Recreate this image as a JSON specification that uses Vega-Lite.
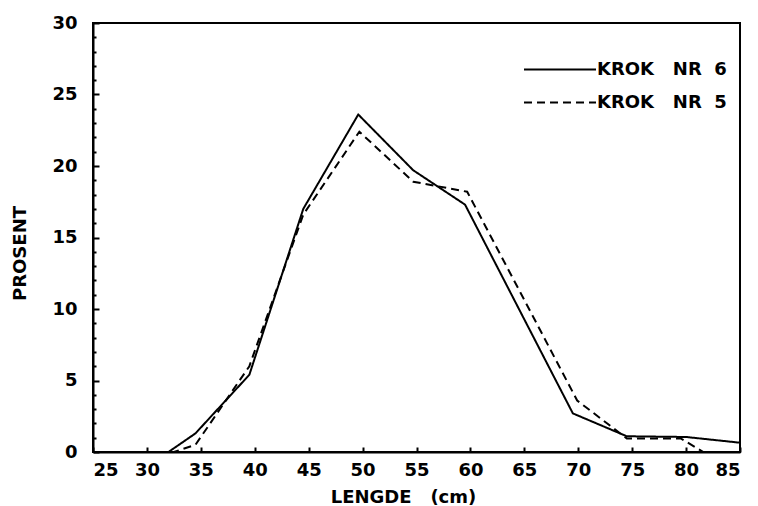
{
  "$schema": "https://vega.github.io/schema/vega-lite/v6.json",
  "width": 647,
  "height": 429,
  "autosize": "none",
  "padding": {"left": 93, "top": 23, "right": 18, "bottom": 54},
  "background": "white",
  "config": {
    "view": {"stroke": "black", "strokeWidth": 2},
    "font": "DejaVu Sans"
  },
  "data": {
    "values": [
      {"serie": "KROK NR 6", "lengde": 25, "prosent": 0},
      {"serie": "KROK NR 6", "lengde": 32, "prosent": 0},
      {"serie": "KROK NR 6", "lengde": 34.5, "prosent": 1.3},
      {"serie": "KROK NR 6", "lengde": 39.5, "prosent": 5.4},
      {"serie": "KROK NR 6", "lengde": 44.5, "prosent": 17.0},
      {"serie": "KROK NR 6", "lengde": 49.6, "prosent": 23.6},
      {"serie": "KROK NR 6", "lengde": 54.7, "prosent": 19.7},
      {"serie": "KROK NR 6", "lengde": 59.5, "prosent": 17.3},
      {"serie": "KROK NR 6", "lengde": 64.5, "prosent": 10.0},
      {"serie": "KROK NR 6", "lengde": 69.5, "prosent": 2.7},
      {"serie": "KROK NR 6", "lengde": 74.5, "prosent": 1.1},
      {"serie": "KROK NR 6", "lengde": 80, "prosent": 1.05},
      {"serie": "KROK NR 6", "lengde": 85, "prosent": 0.65},
      {"serie": "KROK NR 5", "lengde": 25, "prosent": 0},
      {"serie": "KROK NR 5", "lengde": 32.5, "prosent": 0},
      {"serie": "KROK NR 5", "lengde": 34.5, "prosent": 0.5},
      {"serie": "KROK NR 5", "lengde": 39.5, "prosent": 6.0},
      {"serie": "KROK NR 5", "lengde": 44.5, "prosent": 16.6},
      {"serie": "KROK NR 5", "lengde": 49.7, "prosent": 22.4},
      {"serie": "KROK NR 5", "lengde": 54.7, "prosent": 18.9},
      {"serie": "KROK NR 5", "lengde": 59.7, "prosent": 18.2},
      {"serie": "KROK NR 5", "lengde": 64.6, "prosent": 11.2},
      {"serie": "KROK NR 5", "lengde": 69.9, "prosent": 3.6},
      {"serie": "KROK NR 5", "lengde": 74.5, "prosent": 0.95},
      {"serie": "KROK NR 5", "lengde": 79.5, "prosent": 0.95},
      {"serie": "KROK NR 5", "lengde": 81.6, "prosent": 0},
      {"serie": "KROK NR 5", "lengde": 85, "prosent": 0}
    ]
  },
  "mark": {"type": "line", "color": "black", "strokeWidth": 2},
  "encoding": {
    "x": {
      "field": "lengde",
      "type": "quantitative",
      "scale": {"domain": [25, 85], "nice": false, "zero": false},
      "axis": {
        "values": [25, 30, 35, 40, 45, 50, 55, 60, 65, 70, 75, 80, 85],
        "grid": false,
        "domainColor": "black",
        "domainWidth": 2,
        "tickColor": "black",
        "tickWidth": 2,
        "tickSize": -5,
        "labelPadding": 14,
        "labelFontSize": 18,
        "labelFontWeight": "bold",
        "labelColor": "black",
        "title": "LENGDE\u00a0\u00a0\u00a0(cm)",
        "titleFontSize": 18,
        "titleFontWeight": "bold",
        "titleColor": "black",
        "titlePadding": 9,
        "titleX": 310
      }
    },
    "y": {
      "field": "prosent",
      "type": "quantitative",
      "scale": {"domain": [0, 30], "nice": false},
      "axis": {
        "values": [0, 1, 2, 3, 4, 5, 6, 7, 8, 9, 10, 11, 12, 13, 14, 15, 16, 17, 18, 19, 20, 21, 22, 23, 24, 25, 26, 27, 28, 29, 30],
        "labelExpr": "datum.value % 5 === 0 ? datum.label : ''",
        "grid": false,
        "domainColor": "black",
        "domainWidth": 2,
        "tickColor": "black",
        "tickWidth": 2,
        "tickSize": {"condition": {"test": "datum.value % 5 === 0", "value": -6}, "value": -3},
        "labelPadding": 22,
        "labelFontSize": 18,
        "labelFontWeight": "bold",
        "labelColor": "black",
        "title": "PROSENT",
        "titleFontSize": 18,
        "titleFontWeight": "bold",
        "titleColor": "black",
        "titlePadding": 22,
        "titleY": 230
      }
    },
    "strokeDash": {
      "field": "serie",
      "type": "nominal",
      "scale": {"domain": ["KROK NR 6", "KROK NR 5"], "range": [[1, 0], [8, 5]]},
      "legend": {
        "orient": "none",
        "legendX": 430,
        "legendY": 30,
        "title": null,
        "padding": 0,
        "symbolType": "stroke",
        "symbolSize": 5184,
        "symbolStrokeWidth": 2,
        "symbolStrokeColor": "black",
        "labelOffset": 0,
        "labelFontSize": 18,
        "labelFontWeight": "bold",
        "labelColor": "black",
        "labelExpr": "replace(replace(datum.label, 'K ', 'K\u00a0\u00a0\u00a0'), 'R ', 'R\u00a0\u00a0')",
        "clipHeight": 33,
        "rowPadding": 0
      }
    }
  }
}
